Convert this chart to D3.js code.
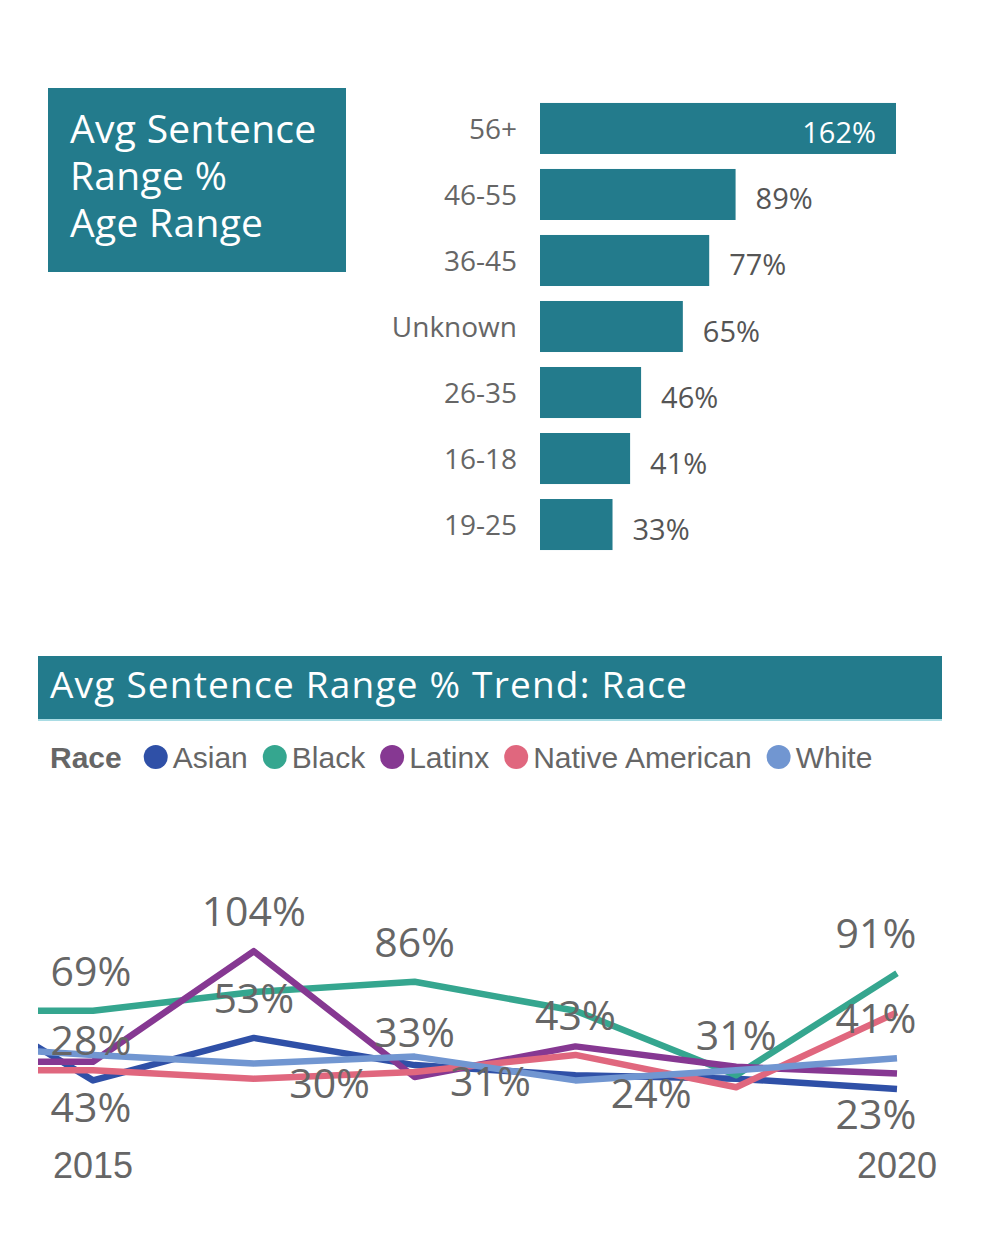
<!DOCTYPE html>
<html>
<head>
<meta charset="utf-8">
<script src="https://cdn.jsdelivr.net/npm/d3@7"></script>
<style>
	body { margin: 0; background: #fff; }
	svg { display: block; }
	.tick-lbl { font-family: "Open Sans", sans-serif; fill: #666; }
</style>
</head>
<body>
<div class="chart"></div>
<script>
// bar chart data
var ageGroups = ["56+", "46-55", "36-45", "Unknown", "26-35", "16-18", "19-25"];
var ageValues = [162, 89, 77, 65, 46, 41, 33];

// line chart data
var years = [2014, 2015, 2016, 2017, 2018, 2019, 2020];
var raceNames = ["Asian", "Black", "Latinx", "Native American", "White"];
var raceColors = ["#2F50A7", "#35A68F", "#863892", "#E0677E", "#7196D1"];
var asian    = [85, 28, 53, 37, 31, 29, 23];
var black    = [69, 69, 80, 86, 69, 31, 91];
var latinx   = [39, 39, 104, 30, 48, 36, 32];
var native   = [34, 34, 29, 33, 43, 24, 68];
var white    = [49, 43, 38, 42, 28, 34, 41];
var raceValues = [asian, black, latinx, native, white];

// which points carry a data label
var labelSeries = ["Black", "Asian", "White", "Latinx", "Asian", "Black", "Native American", "Latinx", "Native American", "Asian", "Black", "Native American", "Black", "White", "Asian"];
var labelYears  = [2015, 2015, 2015, 2016, 2016, 2017, 2017, 2017, 2018, 2018, 2019, 2019, 2020, 2020, 2020];
var labelSides  = ["above", "above", "below2", "above", "above", "above", "above", "left", "above", "left", "above", "left", "above", "above", "below"];

var teal = "#237B8C";

var svg = d3.select(".chart").append("svg")
	.attr("width", 992).attr("height", 1240);


// ---------- top: title box + bars ----------
svg.append("rect")
	.attr("x", 48).attr("y", 88).attr("width", 298).attr("height", 184)
	.attr("fill", teal);
// one text per line (keeps the boxes from stacking into each other)
svg.append("g")
	.selectAll("text")
	.data(["Avg Sentence", "Range %", "Age Range"])
	.enter().append("text")
	.attr("x", 70).attr("y", function(d, i){ return 143 + i * 47; })
	.style("font-family", "Open Sans").style("font-size", "39px").style("font-weight", 500)
	.style("letter-spacing", "0.3px")
	.attr("fill", "#fff")
	.text(function(d){ return d; });

var xBar = d3.scaleLinear().domain([0, 162]).range([540, 896]);
var yBar = d3.scaleBand().domain(ageGroups).range([95.5, 557.5])
	.paddingInner(0.227).paddingOuter(0.113);

var bars = svg.append("g");
bars.selectAll("rect")
	.data(ageValues)
	.enter().append("rect")
	.attr("x", xBar(0))
	.attr("y", function(d, i){ return yBar(ageGroups[i]); })
	.attr("width", function(d){ return xBar(d) - xBar(0); })
	.attr("height", yBar.bandwidth())
	.attr("fill", teal);

// category labels via axis
var yAxis = svg.append("g")
	.attr("transform", "translate(517,0)")
	.call(d3.axisLeft(yBar).tickSize(0).tickPadding(0));
yAxis.select(".domain").remove();
yAxis.selectAll("text")
	.attr("class", "tick-lbl")
	.style("font-size", "28px")
	.attr("dy", "0.38em");

bars.selectAll("text.val")
	.data(ageValues)
	.enter().append("text")
	.attr("class", "val")
	.attr("x", function(d, i){ return i == 0 ? xBar(d) - 20 : xBar(d) + 20; })
	.attr("y", function(d, i){ return yBar(ageGroups[i]) + yBar.bandwidth() / 2 + 15; })
	.attr("text-anchor", function(d, i){ return i == 0 ? "end" : "start"; })
	.style("font-family", "Open Sans").style("font-size", "29px").style("font-weight", 500)
	.attr("fill", function(d, i){ return i == 0 ? "#fff" : "#555"; })
	.text(function(d){ return d + "%"; });


// ---------- bottom: header + legend ----------
svg.append("rect")
	.attr("x", 38).attr("y", 656).attr("width", 904).attr("height", 64)
	.attr("fill", teal);
svg.append("rect")
	.attr("x", 38).attr("y", 719).attr("width", 904).attr("height", 2)
	.attr("fill", "#A9DCE4");
svg.append("text")
	.attr("x", 50).attr("y", 698)
	.style("font-family", "Open Sans").style("font-size", "37px").style("letter-spacing", "1.2px")
	.attr("fill", "#fff")
	.text("Avg Sentence Range % Trend: Race");

var legend = svg.append("g").style("font-family", "Liberation Sans").style("font-size", "30px");
var lx = legend.append("text")
	.attr("x", 50).attr("y", 768)
	.style("font-weight", "bold").attr("fill", "#666")
	.text("Race").node().getComputedTextLength() + 50 + 22;
raceNames.forEach(function(name, i){
	legend.append("circle")
		.attr("cx", lx + 12).attr("cy", 757).attr("r", 12)
		.attr("fill", raceColors[i]);
	var w = legend.append("text")
		.attr("x", lx + 29).attr("y", 768)
		.attr("fill", "#666")
		.text(name).node().getComputedTextLength();
	lx = lx + 29 + w + 15;
});


// ---------- line chart ----------
var xLine = d3.scaleLinear().domain([2015, 2020]).range([93, 897]);
var yLine = d3.scaleLinear().domain([0, 110]).range([1128, 941]);

svg.append("clipPath").attr("id", "plotclip")
	.append("rect").attr("x", 38).attr("y", 880).attr("width", 904).attr("height", 300);

var line = d3.line()
	.x(function(d, i){ return xLine(years[i]); })
	.y(function(d){ return yLine(d); });

svg.append("g").attr("clip-path", "url(#plotclip)")
	.selectAll("path")
	.data(raceValues)
	.enter().append("path")
	.attr("d", line)
	.attr("fill", "none")
	.attr("stroke", function(d, i){ return raceColors[i]; })
	.attr("stroke-width", 6.5)
	.attr("stroke-linejoin", "round");

// data labels
var sideOffset = {
	above:  { dx: 0,   dy: -39 },
	below:  { dx: 0,   dy: 26 },
	below2: { dx: 0,   dy: 53 },
	left:   { dx: -85, dy: 7 }
};
svg.append("g")
	.selectAll("text")
	.data(labelSeries)
	.enter().append("text")
	.attr("text-anchor", "middle")
	.style("font-family", "Open Sans").style("font-size", "41px")
	.attr("fill", "#666")
	.attr("x", function(d, i){
		var x = xLine(labelYears[i]) + sideOffset[labelSides[i]].dx;
		if(labelYears[i] == 2020) x -= 21;
		else if(labelYears[i] == 2015) x -= 2;
		return x;
	})
	.attr("y", function(d, i){
		var v = raceValues[raceNames.indexOf(d)][years.indexOf(labelYears[i])];
		return yLine(v) + sideOffset[labelSides[i]].dy + 14;
	})
	.text(function(d, i){
		return raceValues[raceNames.indexOf(d)][years.indexOf(labelYears[i])] + "%";
	});

// year labels
svg.append("g")
	.selectAll("text")
	.data([2015, 2020])
	.enter().append("text")
	.attr("x", function(d){ return xLine(d); })
	.attr("y", 1178)
	.attr("text-anchor", "middle")
	.style("font-family", "Liberation Sans").style("font-size", "36px")
	.attr("fill", "#666")
	.text(function(d){ return d; });
</script>
</body>
</html>
